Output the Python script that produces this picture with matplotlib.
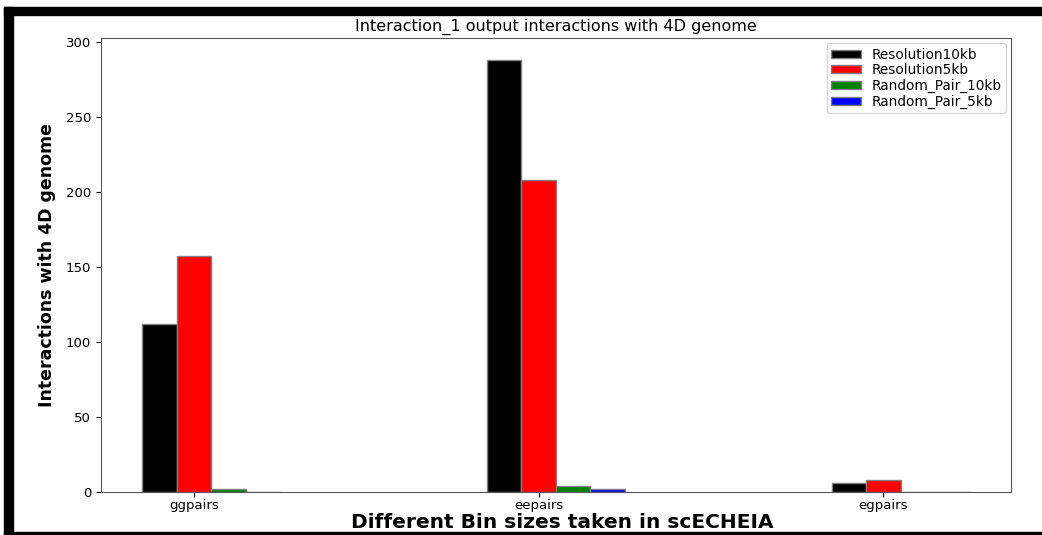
import numpy as np
import matplotlib
matplotlib.use('Agg')
import matplotlib.pyplot as plt
from matplotlib.patches import Rectangle

categories = ['ggpairs', 'eepairs', 'egpairs']
series_names = ['Resolution10kb', 'Resolution5kb', 'Random_Pair_10kb', 'Random_Pair_5kb']
res_10kb = [112, 288, 6]
res_5kb = [157, 208, 8]
rand_10kb = [2, 4, 0]
rand_5kb = [0, 2, 0]
colours = ['black', 'red', 'green', 'blue']

W = 0.1

fig = plt.figure(figsize=(10.42, 5.35), dpi=100)
ax = fig.add_axes([0.0969, 0.0804, 0.8733, 0.8486])

x = np.arange(len(categories))
for i, (vals, name, c) in enumerate(zip([res_10kb, res_5kb, rand_10kb, rand_5kb], series_names, colours)):
    ax.bar(x + i * W, vals, width=W, color=c, edgecolor='grey', linewidth=1, label=name)

ax.set_xticks(x + W)
ax.set_xticklabels(categories, fontsize=9.5)
ax.tick_params(axis='x', pad=1.5)
ax.tick_params(axis='y', labelsize=9.5)
for sp in ax.spines.values():
    sp.set_color('#555555')

ax.set_title('Interaction_1 output interactions with 4D genome', fontsize=11.5, pad=5)
ax.set_xlabel('Different Bin sizes taken in scECHEIA', fontsize=14.5, fontweight='bold')
ax.xaxis.set_label_coords(0.507, -0.047)
ax.set_ylabel('Interactions with 4D genome', fontsize=12.5, fontweight='bold')
ax.yaxis.set_label_coords(-0.049, 0.5)
ax.legend(loc='upper right', fontsize=9.8, labelspacing=0.12, handlelength=2.2,
          handleheight=0.5, borderaxespad=0.4, borderpad=0.3)

# black screenshot frame
fig.patches.append(Rectangle((4 / 1042, 0), 9 / 1042, 528 / 535, transform=fig.transFigure,
                             color='black', zorder=10))
fig.patches.append(Rectangle((4 / 1042, 520 / 535), 1038 / 1042, 8 / 535, transform=fig.transFigure,
                             color='black', zorder=10))
fig.patches.append(Rectangle((4 / 1042, 0), 1038 / 1042, 3.5 / 535, transform=fig.transFigure,
                             color='black', zorder=10))

fig.savefig('out.png', dpi=100)
